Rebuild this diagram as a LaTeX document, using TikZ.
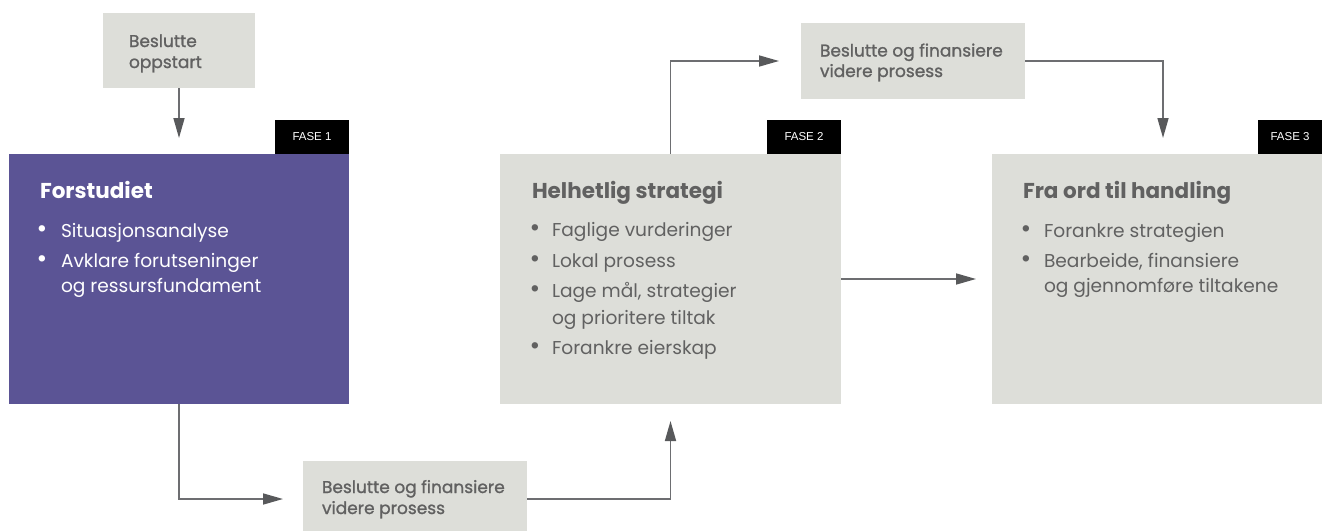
\documentclass[tikz,border=0pt]{standalone}
\usepackage{fontspec}
\setmainfont{Poppins}
\newfontfamily\tabfont{Liberation Sans}
\newfontfamily\medfont[FakeBold=1.2]{Poppins}
\usetikzlibrary{arrows.meta}

\definecolor{purp}{HTML}{5B5495}
\definecolor{boxgray}{HTML}{DDDED9}
\definecolor{txtgray}{HTML}{616161}
\definecolor{linegray}{HTML}{6D6E71}
\definecolor{tipgray}{HTML}{58595B}

\begin{document}
\begin{tikzpicture}[x=1pt, y=-1pt,
  every node/.style={inner sep=0pt, outer sep=0pt},
  phasebox/.style={anchor=north west, fill=boxgray},
  purplebox/.style={anchor=north west, fill=purp},
  decbox/.style={anchor=north west, fill=boxgray, minimum width=224pt, minimum height=76pt},
  fasetab/.style={anchor=north west, fill=black, minimum height=34pt,
    text=white, font=\tabfont\fontsize{11.5}{12}\selectfont},
  heading/.style={anchor=base west, font=\bfseries\fontsize{21.5}{24}\selectfont},
  body/.style={anchor=base west, font=\fontsize{18.6}{20}\selectfont},
  bul/.style={anchor=base, font=\fontsize{26}{28}\selectfont},
  small/.style={anchor=base west, text=txtgray, font=\medfont\fontsize{17}{18}\selectfont},
  arr/.style={draw=linegray, line width=1.6pt,
    -{Triangle[length=20pt, width=11pt, fill=tipgray, color=tipgray]}},
]
\useasboundingbox (0,0) rectangle (1322,530);

% decision boxes
\node[phasebox, minimum width=152pt, minimum height=75pt] (start) at (103,13) {};
\node[small] (startA) at (129,47) {Beslutte};
\node[small] (startB) at (129,68) {oppstart};

\node[decbox] (dectop) at (801,23) {};
\node[small] (dectopA) at (820,56.5) {Beslutte og finansiere};
\node[small] (dectopB) at (820,77) {videre prosess};

\begin{scope}
\clip (0,0) rectangle (1322,530);
\node[decbox] (decbot) at (303,461) {};
\end{scope}
\node[small] (decbotA) at (322,493) {Beslutte og finansiere};
\node[small] (decbotB) at (322,514) {videre prosess};

% phase 1
\node[purplebox, minimum width=340pt, minimum height=250pt] (f1) at (9,154) {};
\node[fasetab, minimum width=74pt] (tab1) at (275,120) {FASE 1};
\begin{scope}[every node/.append style={text=white}]
\node[heading] (f1h) at (40,198) {Forstudiet};
\node[bul] (f1b1) at (42,237) {•};
\node[body] (f1t1) at (61,237) {Situasjonsanalyse};
\node[bul] (f1b2) at (42,267) {•};
\node[body] (f1t2) at (61,267) {Avklare forutseninger};
\node[body] (f1t3) at (61,292) {og ressursfundament};
\end{scope}

% phase 2
\node[phasebox, minimum width=341pt, minimum height=250pt] (f2) at (500,154) {};
\node[fasetab, minimum width=74pt] (tab2) at (767,120) {FASE 2};
\begin{scope}[every node/.append style={text=txtgray}]
\node[heading] (f2h) at (532,198) {Helhetlig strategi};
\node[bul] (f2b1) at (535,236) {•};
\node[body] (f2t1) at (552,236) {Faglige vurderinger};
\node[bul] (f2b2) at (535,267) {•};
\node[body] (f2t2) at (552,267) {Lokal prosess};
\node[bul] (f2b3) at (535,297) {•};
\node[body] (f2t3) at (552,297) {Lage mål, strategier};
\node[body] (f2t4) at (552,324) {og prioritere tiltak};
\node[bul] (f2b4) at (535,354) {•};
\node[body] (f2t5) at (552,354) {Forankre eierskap};
\end{scope}

% phase 3
\node[phasebox, minimum width=330pt, minimum height=250pt] (f3) at (992,154) {};
\node[fasetab, minimum width=64pt] (tab3) at (1258,120) {FASE 3};
\begin{scope}[every node/.append style={text=txtgray}]
\node[heading] (f3h) at (1023,198) {Fra ord til handling};
\node[bul] (f3b1) at (1026,237) {•};
\node[body] (f3t1) at (1044,237) {Forankre strategien};
\node[bul] (f3b2) at (1026,267) {•};
\node[body] (f3t2) at (1044,267) {Bearbeide, finansiere};
\node[body] (f3t3) at (1044,292) {og gjennomføre tiltakene};
\end{scope}

\coordinate (f3in) at (1163,154);

% connectors
\draw[arr, shorten >=16pt] (start.south) -- (start.south |- f1.north);
\draw[arr, shorten >=20pt] (f1.south) |- (decbot.west);
\draw[arr, shorten >=17pt] (decbot.east) -| (f2.south);
\draw[arr, shorten >=22pt] (f2.north) |- (dectop.west);
\draw[arr, shorten >=16pt] (dectop.east) -| (f3in);
\draw[arr, shorten >=16pt] (f2.east) -- (f2.east -| f3.west);
\end{tikzpicture}
\end{document}
